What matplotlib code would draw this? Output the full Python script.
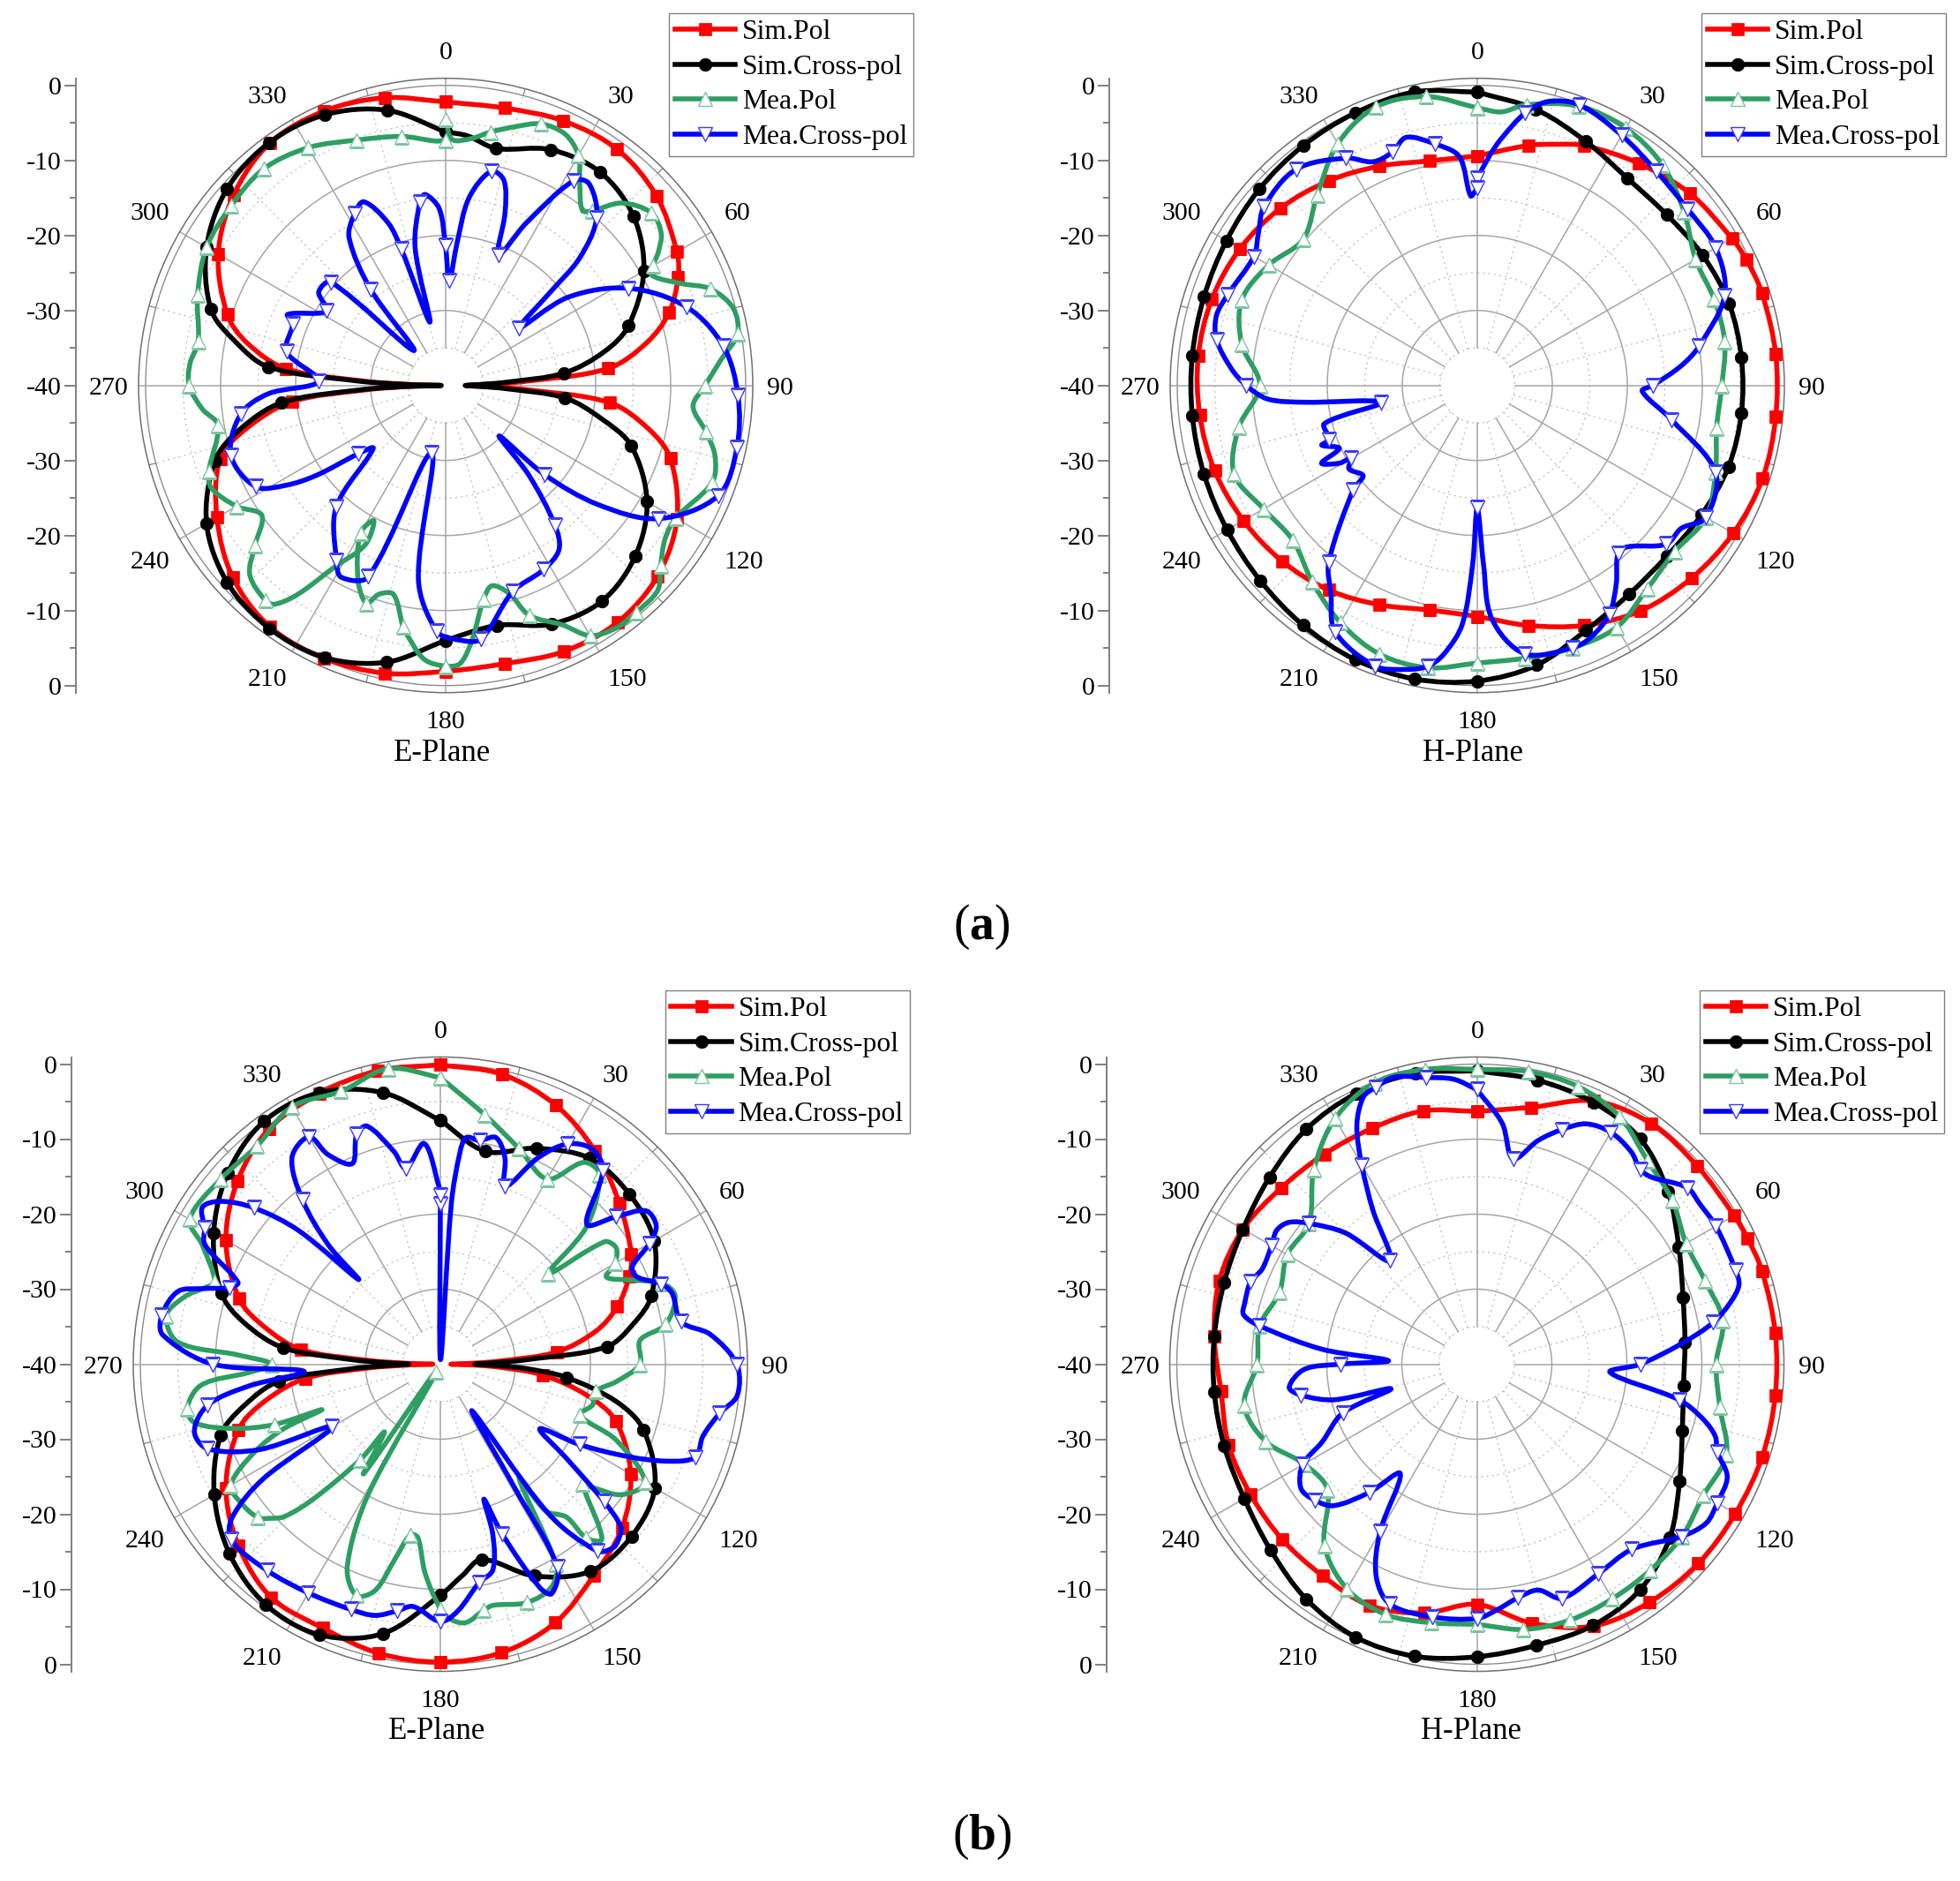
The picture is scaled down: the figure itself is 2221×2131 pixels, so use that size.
import numpy as np
import matplotlib

matplotlib.use("Agg")
import matplotlib.pyplot as plt
from matplotlib.lines import Line2D
from matplotlib.patches import PathPatch
from matplotlib.path import Path

plt.rcParams["font.family"] = ["Liberation Serif", "DejaVu Serif"]
plt.rcParams["mathtext.fontset"] = "custom"
plt.rcParams["mathtext.rm"] = "Liberation Serif"
plt.rcParams["mathtext.bf"] = "Liberation Serif:bold"

WIDTH, HEIGHT = 2221, 2131

series_names = ["Sim.Pol", "Sim.Cross-pol", "Mea.Pol", "Mea.Cross-pol"]
angle_labels = [0, 30, 60, 90, 120, 150, 180, 210, 240, 270, 300, 330]
db_tick_labels = ["0", "-10", "-20", "-30", "-40", "-30", "-20", "-10", "0"]

# panel (a), E-plane
ae_simpol_theta = [0, 12, 24, 36, 48, 60, 65, 72, 78, 84, 87, 88.5, 90, 91.5, 93, 96, 102, 108, 120, 132, 144, 156, 168, 180, 192, 204, 216, 228, 240, 252, 258, 264, 267, 268.5, 270, 271.5, 273, 276, 282, 288, 300, 312, 324, 336, 348, 360]
ae_simpol_db = [-2.2, -2.2, -1.4, -1.1, -2.2, -4.4, -5.8, -8.7, -12.6, -18.2, -29.3, -34.9, -37.3, -34.8, -29.2, -18, -12.4, -8.5, -4.4, -2, -1, -1.2, -2.1, -1.9, -0.8, -0.2, -0.2, -1.8, -4.8, -8.4, -13, -19.4, -29.6, -35.2, -39.4, -35.2, -29.2, -18.6, -13, -9.4, -5, -2, -0.1, 0, -0.8, -2.2]
ae_simcross_theta = [0, 5, 12, 24, 36, 48, 60, 72, 78, 84, 87, 88.5, 90, 91.5, 93, 96, 102, 108, 120, 132, 144, 156, 168, 180, 192, 204, 216, 228, 240, 252, 258, 264, 267, 268.5, 270, 271.5, 273, 276, 282, 288, 300, 312, 324, 336, 348, 360]
ae_simcross_db = [-6.2, -6.6, -7.7, -5.6, -4.9, -6.3, -9.5, -14.4, -18.4, -24.1, -32, -35.6, -37.4, -35.6, -32, -24, -18.8, -14, -9, -6, -4.5, -5.2, -7.3, -6, -2.3, -0.3, 0, -0.8, -3.2, -7.7, -12, -18, -28.4, -34.8, -39.4, -34.8, -28, -16.2, -11.2, -7.1, -3.2, -0.8, 0, -0.5, -2.5, -6.2]
ae_meapol_theta = [0, 1.5, 6, 10, 15, 20, 25.4, 30, 33.6, 38, 40, 44, 50, 54.7, 58, 60, 62, 66.7, 70, 75, 80, 84.6, 90, 94.8, 100, 104.6, 110, 120, 125, 130, 134, 140, 145, 150, 154, 160, 163, 167, 170, 174, 177, 180, 184.5, 189, 190, 194, 197.7, 200, 204.3, 210, 208, 206.8, 211.5, 215.3, 218, 220, 226, 230, 234.8, 240, 246.4, 250, 260, 264.5, 270, 275, 280, 290, 300, 310, 320, 330, 340, 350, 357.7, 360]
ae_meapol_db = [-4.5, -7.2, -6.9, -5.7, -4.3, -2.9, -2.9, -4.6, -7.7, -10.4, -9.6, -6.2, -4.2, -4.8, -6.6, -8.1, -8.8, -5.7, -2.4, -0.3, -0.5, -3.1, -5.4, -6.9, -4.8, -2.9, -2.2, -4.6, -4.3, -2.6, -0.7, -0.5, -0.5, -1.5, -4.5, -7.4, -11, -12.6, -11, -6, -2.9, -2.6, -3.4, -6.5, -7.3, -11.3, -10.8, -9.1, -11.6, -17.3, -19.6, -16.2, -11.6, -5.9, -3, -2.6, -3.7, -6.8, -10, -7.8, -5.9, -6.4, -9.2, -7.4, -5.8, -5.8, -6.5, -4.8, -3.2, -2.7, -2.3, -3.4, -5.2, -6.3, -7.4, -7.3]
ae_meacross_theta = [0, 2, 4.6, 7.1, 12, 15.9, 19, 22, 26.4, 32, 35.4, 42, 46.4, 48.3, 52, 54.2, 62, 72, 82, 92, 102, 112, 122, 128, 132, 133.3, 137.2, 142, 145.4, 152, 162, 172, 176.8, 182, 188, 192, 202, 208.6, 212, 222, 229, 232, 235.2, 238, 242, 252, 262, 267.3, 272, 282, 292, 294.2, 302, 306.3, 312, 317.6, 322, 326.8, 332, 336, 340.5, 342, 346, 347.5, 352, 353.9, 357.9, 360]
ae_meacross_db = [-21.3, -26, -20.9, -14.8, -10.8, -11.6, -15.7, -21.2, -15.8, -7.8, -7, -9.9, -15.3, -21.4, -27.6, -19.9, -12.4, -6.2, -2.6, -1, -0.3, -0.8, -6.5, -14.2, -22.2, -30.2, -23.6, -16.3, -13.4, -12.2, -11.1, -5.9, -6, -7.2, -13.9, -30.8, -12.5, -10.9, -12.5, -18.2, -27.2, -25.2, -19, -14.9, -11.3, -9.9, -12.4, -16.3, -23, -18.3, -18, -16.9, -21.3, -19, -19.4, -33.7, -23.8, -16.5, -14.1, -13.2, -17, -20.9, -31.3, -21.2, -15.3, -14.4, -16.4, -21.3]

# panel (a), H-plane
ah_simpol_theta = [0, 12, 18, 24, 36, 48, 60, 65, 72, 84, 96, 108, 120, 132, 144, 156, 168, 180, 192, 204, 216, 228, 240, 252, 264, 276, 288, 300, 312, 324, 336, 348, 360]
ah_simpol_db = [-9.4, -7.3, -6.2, -5, -3.4, -1.8, -0.8, -0.4, -0.1, 0, 0, 0, -0.6, -1.6, -2.9, -5, -7.3, -9.2, -9.4, -8, -6.3, -5, -4, -3.2, -2.8, -2.6, -2.8, -3.5, -4.7, -6.3, -8, -9.4, -9.4]
ah_simcross_theta = [0, 12, 24, 36, 48, 60, 72, 84, 96, 108, 120, 132, 144, 156, 168, 180, 192, 204, 216, 228, 240, 252, 264, 276, 288, 300, 312, 324, 336, 348, 360]
ah_simcross_db = [-0.9, -2.4, -4.4, -5.9, -6, -5.3, -4.7, -4.6, -4.6, -4.8, -5.5, -6, -5.6, -4.3, -1.9, -0.6, 0, 0, -0.5, -1.1, -1.5, -1.7, -1.8, -1.8, -1.7, -1.4, -0.9, -0.5, -0.2, 0, -0.9]
ah_meapol_theta = [0, 5, 10, 20, 30, 40, 50, 60, 70, 80, 90, 100, 110, 120, 130, 140, 150, 160, 170, 180, 190, 200, 210, 220, 230, 240, 250, 260, 270, 280, 290, 300, 310, 320, 330, 340, 350, 360]
ah_meapol_db = [-3, -3.4, -2, -0.4, -0.4, -1.6, -4, -6.4, -6.4, -6.5, -7.4, -7.6, -6.2, -4.8, -5.6, -4.7, -2.8, -2.8, -3.1, -3, -1.8, -1.9, -3.5, -5.8, -7.9, -7.1, -5.5, -7.7, -11, -8.1, -6.6, -7.9, -9.7, -6.8, -2.8, -0.5, -0.9, -3]
ah_meacross_theta = [0, 3, 5.5, 10, 14, 20, 30, 40, 50, 60, 70, 80, 84.5, 90, 92, 100, 110, 120, 125, 130, 137, 140, 145, 150, 155.6, 160, 170, 176.4, 178, 180, 181.5, 183.6, 187, 190, 194, 200, 210, 215, 220, 230, 231.7, 237, 240, 240.6, 243.5, 245.5, 249, 250, 256, 260, 264.5, 266.3, 270, 274, 280, 285, 290, 300, 305, 310, 320, 330, 335, 340, 344, 350, 355.5, 358, 360]
ah_meacross_db = [-12.4, -9.4, -7, -3.1, -1, -0.2, -1.5, -2.8, -3.4, -3.3, -4.9, -10, -12.7, -16.6, -18, -13.7, -6.2, -4.8, -6.8, -7.1, -10.6, -10.8, -7.7, -4.8, -3.2, -2.8, -3.7, -8.8, -16.1, -23.7, -16.1, -8.1, -4, -2, -1, -0.2, -2.1, -6, -9.2, -18.4, -20.6, -19.6, -20.6, -18.9, -16.8, -19.8, -17.8, -19, -19, -27, -16.7, -12, -9.2, -7.1, -4.7, -4, -4.6, -5.6, -4.4, -2.9, -2.4, -5, -7.1, -6.9, -5.6, -7.3, -9.4, -14.7, -13.7]

# panel (b), E-plane
be_simpol_theta = [0, 12, 24, 36, 48, 60, 65, 72, 78, 84, 87, 88.5, 90, 91.5, 93, 96, 102, 108, 120, 132, 144, 156, 168, 180, 192, 204, 216, 228, 240, 252, 258, 264, 267, 268.5, 270, 271.5, 273, 276, 282, 288, 300, 312, 324, 336, 348, 360]
be_simpol_db = [-0.1, -0.5, -2.2, -4.9, -7.9, -10.6, -12.2, -15.2, -18.8, -24.4, -32, -36, -38.6, -35.2, -32, -26.3, -20, -15.4, -10.7, -7.4, -5.2, -2.3, -0.7, -0.3, -0.6, -1.5, -1.6, -3.8, -7, -11.7, -16, -21.9, -30.4, -35.6, -39, -35.6, -30.4, -21.3, -16, -11.8, -7, -3.6, -1.2, -0.5, 0, -0.1]
be_simcross_theta = [0, 12, 24, 36, 48, 60, 72, 78, 84, 87, 88.5, 90, 91.5, 93, 96, 102, 108, 120, 132, 144, 156, 168, 174, 180, 192, 204, 216, 228, 240, 252, 258, 264, 267, 268.5, 270, 271.5, 273, 276, 282, 288, 300, 312, 324, 336, 348, 360]
be_simcross_db = [-7.5, -11, -8.5, -6.1, -6.1, -7.1, -10.4, -13.6, -17.7, -28.4, -32.8, -35.4, -32, -28.4, -23.1, -16, -11.5, -7, -5.7, -5.9, -9.1, -13.4, -11.7, -9.2, -3.3, -0.5, -0.4, -2.2, -5.2, -9.2, -13.2, -18.4, -28, -32.8, -35.8, -32.8, -28, -18.9, -13.2, -9.3, -5.1, -1.9, 0, -0.4, -3, -7.5]
be_meapol_theta = [0, 10, 20, 30, 35.4, 40, 46.8, 50, 53.3, 56.5, 60, 62.3, 66.2, 70, 73.8, 80, 83.2, 90, 95.6, 100, 105, 110, 113.4, 120, 125.7, 129, 130, 135.7, 137.6, 140, 140.5, 144.3, 145.4, 150, 153.5, 160, 167.7, 170, 174.3, 177.5, 180, 184.2, 187.4, 190, 193, 196.1, 200, 204.7, 209, 210, 215, 219.5, 220, 223.3, 225.7, 228, 230, 235.5, 240, 244.7, 247.6, 249, 250, 252.7, 256.5, 260, 265, 267.5, 270, 272.6, 274.8, 280, 284.7, 288, 290, 296.6, 300, 310, 320, 330, 340, 350, 360]
be_meapol_db = [-1.8, -6.2, -9.4, -11.5, -7, -7, -13.3, -21.2, -12.7, -11.9, -13.1, -15, -12.2, -8.5, -7.4, -9.5, -13.2, -13.4, -16.4, -19, -19, -20.2, -14.4, -8.5, -10.2, -13.9, -15.2, -9.7, -8.2, -9.8, -13.6, -15.9, -21.5, -9.2, -6.8, -6.2, -7.1, -6.7, -5.4, -5.9, -7.4, -12.1, -16.7, -16.9, -13.5, -8.6, -7.2, -10.3, -20.2, -38.8, -22.2, -28.3, -23.4, -15.3, -10.9, -9.3, -8.2, -7.6, -7.7, -12.6, -17.4, -23.1, -16.5, -11.2, -6.4, -5.7, -8, -14.4, -17.5, -13, -4.9, -2.9, -4.7, -7, -8, -4.5, -1.4, -1.7, -2, -0.4, -1.3, 0, -1.8]
be_meacross_theta = [0, 2, 3.9, 5.3, 6.5, 10, 13.8, 17.4, 20, 25.3, 30, 35.2, 40, 46.3, 50, 53.3, 57.3, 60, 63.1, 66.1, 70, 73, 80, 83.7, 90, 96, 100, 105.3, 110, 113, 116.2, 120, 123, 126.7, 130, 132, 134.1, 136.7, 140, 144.1, 145.8, 149, 150, 154.1, 156, 160, 162.1, 162.9, 165.7, 170, 176, 180, 186.4, 190, 194.6, 200, 210, 220, 230, 233.7, 237.1, 240, 244.7, 250, 254.7, 260, 263.5, 267, 270, 276, 280, 285.5, 287.6, 290, 292, 296.9, 300, 303.4, 306.5, 310, 313.3, 316, 316.8, 320, 324.3, 330, 331.8, 336.3, 340, 342.9, 347.7, 350, 355.8, 359.6, 360]
be_meacross_db = [-18.7, -39.4, -18.6, -11.6, -9.6, -9.7, -8.9, -11.2, -14.8, -9.6, -6.1, -4.9, -6.3, -13, -9.4, -5.8, -5.8, -7.8, -11.3, -11.3, -8.7, -7.7, -7.4, -3.8, -0.5, -0.2, -2.2, -3.7, -3.8, -6.9, -12.1, -18.6, -24.2, -19.1, -11.5, -7.6, -6.8, -6.4, -7.5, -15.4, -32.5, -20.4, -8.8, -6, -7.4, -15.9, -21.1, -16.2, -11.7, -10.4, -7, -5.7, -7.5, -6.6, -5.4, -5.2, -4.8, -4.1, -3.6, -5.6, -11.9, -23.3, -13.4, -7, -6, -8.5, -14.3, -21.8, -9.7, -2.8, -2.3, -3.7, -6.7, -10.1, -10.9, -4.8, -3.7, -2, -3.5, -7.6, -14, -24.3, -18.2, -11.4, -6.1, -5, -8.3, -10.8, -7.4, -6.8, -11, -13.5, -10.5, -16.4, -17.5]

# panel (b), H-plane
bh_simpol_theta = [0, 12, 24, 36, 48, 60, 65, 72, 84, 96, 108, 120, 132, 144, 156, 168, 180, 192, 204, 216, 228, 240, 252, 264, 276, 288, 300, 312, 324, 336, 348, 360]
bh_simpol_db = [-6.3, -5, -1.6, -0.4, -0.5, -0.4, -0.2, 0, 0, 0, 0, -0.2, -0.3, -0.8, -1.8, -4.7, -8, -6.1, -4.8, -5.1, -5.1, -5.2, -5.2, -5.7, -4.8, -3.9, -4, -4.9, -5.4, -5.6, -5.5, -6.3]
bh_simcross_theta = [0, 12, 24, 36, 48, 60, 72, 84, 96, 108, 120, 132, 144, 156, 168, 180, 192, 204, 216, 228, 240, 252, 264, 276, 288, 300, 312, 324, 336, 348, 360]
bh_simcross_db = [-0.9, -1.3, -1.8, -2.9, -5.7, -8.9, -11.1, -12.1, -12.3, -11.2, -8.8, -5.4, -2.9, -1.9, -1.7, -1, -0.2, -0.2, -1.3, -3, -4.2, -4.6, -4.8, -4.8, -4.6, -4, -2.8, -1.3, -0.5, -0.4, -0.9]
bh_meapol_theta = [0, 10, 20, 30, 40, 50, 60, 70, 80, 90, 100, 110, 120, 130, 140, 150, 160, 170, 180, 190, 200, 210, 220, 230, 240, 250, 260, 270, 280, 290, 300, 310, 320, 330, 340, 350, 360]
bh_meapol_db = [-0.7, -0.4, -0.6, -1.9, -4.6, -6, -7.8, -7.6, -6.7, -8.1, -7.1, -4.6, -5.1, -4.3, -4.1, -3.9, -3.7, -4.1, -5.3, -5, -4.5, -5.4, -8.4, -14, -13.4, -10, -8.5, -10.7, -10.6, -12, -10.8, -10.8, -6.2, -2.2, -0.1, -0.1, -0.7]
bh_meacross_theta = [0, 6, 10, 15.3, 20, 24.5, 30, 36, 40, 43, 50, 54.4, 60, 70, 73.2, 76.3, 80, 84.2, 90, 93.5, 100, 103.6, 106.8, 110, 114.2, 120, 124.7, 130, 140, 150, 160, 164.8, 170, 175.5, 180, 190, 200, 205.5, 210, 215, 220, 225.3, 230, 234.8, 240, 243.3, 250, 254, 256, 260, 263, 268.3, 270, 272.3, 275.5, 280, 282, 284.8, 290, 293.9, 300, 303.8, 307, 310, 315, 320, 326, 330, 333.3, 337, 340, 344, 350, 355.4, 360]
bh_meacross_db = [-3.4, -7.7, -12.2, -9.1, -6.7, -4.8, -4.3, -5, -6.1, -5.9, -3.4, -3.4, -3.2, -3.3, -3.5, -5.2, -8, -12.5, -18.2, -22.2, -12.6, -9, -6.8, -5.9, -3.4, -3, -2.8, -4.3, -7.8, -7.7, -6.8, -8.8, -8.4, -7.1, -6.1, -5.8, -6, -8.8, -14.2, -22.2, -17.7, -13.2, -11.8, -11.3, -13.2, -16.9, -21, -28.1, -20.4, -16.2, -14.8, -17, -21.8, -28.2, -19.3, -10.6, -8.2, -8, -7.9, -8.7, -8.4, -7.9, -8.6, -10.8, -15.3, -22, -15.2, -9.3, -4.4, -1.3, -0.7, -0.2, -1.2, -1.9, -3.4]

COLORS = ["#FF0000", "#000000", "#2E9E63", "#0000FF"]
R_ZERO = 340.0   # px between the centre and the 0 dB ring
R_OUTER = 348.0  # px between the centre and the outer ring
R_MAX = -40 + 40 * R_OUTER / R_ZERO

# nudges in points for the angle labels, in the order of angle_labels
LABEL_DX = [0.3, 4.8, -1.4, 0, 3.6, 9.8, 0, -7.2, -2, -2, -2, -7.2]
LABEL_DY = [-2, -4.1, 2.1, -2.4, -5.9, -0.7, -1.8, -0.7, -5.9, -2.4, 2.1, -4.1]

fig = plt.figure(figsize=(WIDTH / 100, HEIGHT / 100), dpi=100)


def marked(theta, step, offset=0, extra=()):
    return [i for i, t in enumerate(theta) if t % step == offset or t in extra]


def smooth_path(theta, db):
    # spline connection through the read values, as the plotting program draws it
    t = np.radians(theta)
    rho = np.asarray(db, dtype=float) + 40
    pts = np.column_stack([rho * np.sin(t), rho * np.cos(t)])
    d = np.maximum(np.hypot(*np.diff(pts, axis=0).T), 1e-6)
    tan = np.zeros_like(pts)
    tan[1:-1] = (pts[2:] - pts[:-2]) / (d[:-1] + d[1:])[:, None]
    tan[0] = (pts[1] - pts[0]) / d[0]
    tan[-1] = (pts[-1] - pts[-2]) / d[-1]
    n = len(d)
    verts = np.zeros((3 * n + 1, 2))
    verts[0] = pts[0]
    verts[1::3] = pts[:-1] + tan[:-1] * d[:, None] / 3
    verts[2::3] = pts[1:] - tan[1:] * d[:, None] / 3
    verts[3::3] = pts[1:]
    polar = np.column_stack([np.arctan2(verts[:, 0], verts[:, 1]), np.hypot(verts[:, 0], verts[:, 1]) - 40])
    return Path(polar, [Path.MOVETO] + [Path.CURVE4] * (3 * n))


def draw_grid(ax):
    ring = np.linspace(0, 2 * np.pi, 361)
    for level in [-30, -20, -10]:
        ax.plot(ring, np.full_like(ring, level), color="#a6a6a6", lw=1.1, zorder=1)
    ax.plot(ring, np.zeros_like(ring), color="#8c8c8c", lw=1.0, zorder=1)
    for level in [-35, -25, -15, -5]:
        ax.plot(ring, np.full_like(ring, level), color="#c4c4c4", lw=1.0, ls=(0, (1.5, 3)), zorder=1)
    for deg in range(0, 360, 30):
        t = np.radians(deg)
        ax.plot([t, t], [-35, R_MAX], color="#a6a6a6", lw=1.1, zorder=1)
        t2 = np.radians(deg + 15)
        ax.plot([t2, t2], [-35, 0], color="#c4c4c4", lw=1.0, ls=(0, (1.5, 3)), zorder=1)
        ax.plot([t2, t2], [0, R_MAX], color="#8c8c8c", lw=1.0, zorder=1)


def draw_panel(cx, cy, axis_x, legend_x, legend_y, curves, cross_offset, cross_extra, title, title_x, title_y):
    R = R_OUTER
    ax = fig.add_axes([(cx - R) / WIDTH, 1 - (cy + R) / HEIGHT, 2 * R / WIDTH, 2 * R / HEIGHT], projection="polar")
    ax.set_theta_zero_location("N")
    ax.set_theta_direction(-1)
    ax.set_rlim(-40, R_MAX)
    ax.set_xticks([])
    ax.set_yticks([])
    ax.grid(False)
    ax.spines["polar"].set_color("#707070")
    ax.spines["polar"].set_linewidth(1.1)
    draw_grid(ax)

    styles = [
        dict(marker="s", ms=10, mfc=COLORS[0], mec=COLORS[0], mew=0.5),
        dict(marker="o", ms=10.5, mfc=COLORS[1], mec=COLORS[1], mew=0.5),
        dict(marker="^", ms=11, mfc="white", mec="#7cc49f", mew=1.0),
        dict(marker="v", ms=11, mfc="white", mec="#3a3aff", mew=1.0),
    ]
    marks = [
        marked(curves[0][0], 12, extra=(65,)),
        marked(curves[1][0], 12),
        marked(curves[2][0], 10),
        marked(curves[3][0], 10, cross_offset, cross_extra),
    ]
    handles = []
    for i, (theta, db) in enumerate(curves):
        ax.add_patch(PathPatch(smooth_path(theta, db), facecolor="none", edgecolor=COLORS[i], lw=4,
                               joinstyle="round", capstyle="round", zorder=3 + i))
        ax.plot(np.radians(theta)[marks[i]], np.asarray(db)[marks[i]], ls="none", zorder=3 + i, **styles[i])
        handles.append(Line2D([], [], color=COLORS[i], lw=4, label=series_names[i], **styles[i]))

    for deg, dx, dy in zip(angle_labels, LABEL_DX, LABEL_DY):
        radius = 379 if deg % 90 == 0 else 384
        ax.annotate(str(deg), (np.radians(deg), -40 + 40 * radius / R_ZERO), xytext=(dx, dy),
                    textcoords="offset points", ha="center", va="center", fontsize=21.5, annotation_clip=False)

    # the dB scale down the left side
    left = fig.add_axes([axis_x / WIDTH, 1 - (cy + R) / HEIGHT, 0.001, 2 * R / HEIGHT])
    left.set_ylim(-R_OUTER / R_ZERO * 40, R_OUTER / R_ZERO * 40)
    left.patch.set_alpha(0)
    left.set_xticks([])
    for side in ["top", "right", "bottom"]:
        left.spines[side].set_visible(False)
    left.spines["left"].set_color("#808080")
    left.spines["left"].set_linewidth(1.4)
    left.set_yticks(np.arange(-40, 41, 10))
    left.set_yticklabels(db_tick_labels[::-1], fontsize=21.5)
    left.set_yticks(np.arange(-35, 36, 10), minor=True)
    left.tick_params(axis="y", which="major", length=9.5, width=1.4, color="#808080", pad=2)
    left.tick_params(axis="y", which="minor", length=5, width=1.4, color="#808080")

    fig.text(title_x / WIDTH, 1 - title_y / HEIGHT, title, ha="center", va="center", fontsize=25)

    fig.legend(handles=handles, loc="upper left",
               bbox_to_anchor=(legend_x / WIDTH, 1 - legend_y / HEIGHT),
               bbox_transform=fig.transFigure, borderaxespad=0, fancybox=False, framealpha=1,
               edgecolor="#808080", fontsize=22.8, handlelength=2.15, handletextpad=0.25,
               labelspacing=0.33, borderpad=0.22)


draw_panel(505, 436.7, 86, 758, 15,
           [(ae_simpol_theta, ae_simpol_db), (ae_simcross_theta, ae_simcross_db),
            (ae_meapol_theta, ae_meapol_db), (ae_meacross_theta, ae_meacross_db)],
           2, (0, 360), "E-Plane", 501, 854)
draw_panel(1674, 436.7, 1256.5, 1928, 15,
           [(ah_simpol_theta, ah_simpol_db), (ah_simcross_theta, ah_simcross_db),
            (ah_meapol_theta, ah_meapol_db), (ah_meacross_theta, ah_meacross_db)],
           0, (), "H-Plane", 1669, 854)
draw_panel(499, 1545.5, 80.5, 753.5, 1122,
           [(be_simpol_theta, be_simpol_db), (be_simcross_theta, be_simcross_db),
            (be_meapol_theta, be_meapol_db), (be_meacross_theta, be_meacross_db)],
           0, (), "E-Plane", 495, 1962)
draw_panel(1673.5, 1545.5, 1254, 1926, 1122,
           [(bh_simpol_theta, bh_simpol_db), (bh_simcross_theta, bh_simcross_db),
            (bh_meapol_theta, bh_meapol_db), (bh_meacross_theta, bh_meacross_db)],
           0, (), "H-Plane", 1667, 1962)

fig.text(1112 / WIDTH, 1 - 1050 / HEIGHT, r"$(\mathbf{a})$", ha="center", va="center", fontsize=40)
fig.text(1113 / WIDTH, 1 - 2081 / HEIGHT, r"$(\mathbf{b})$", ha="center", va="center", fontsize=40)

fig.savefig("out.png", dpi=100)
